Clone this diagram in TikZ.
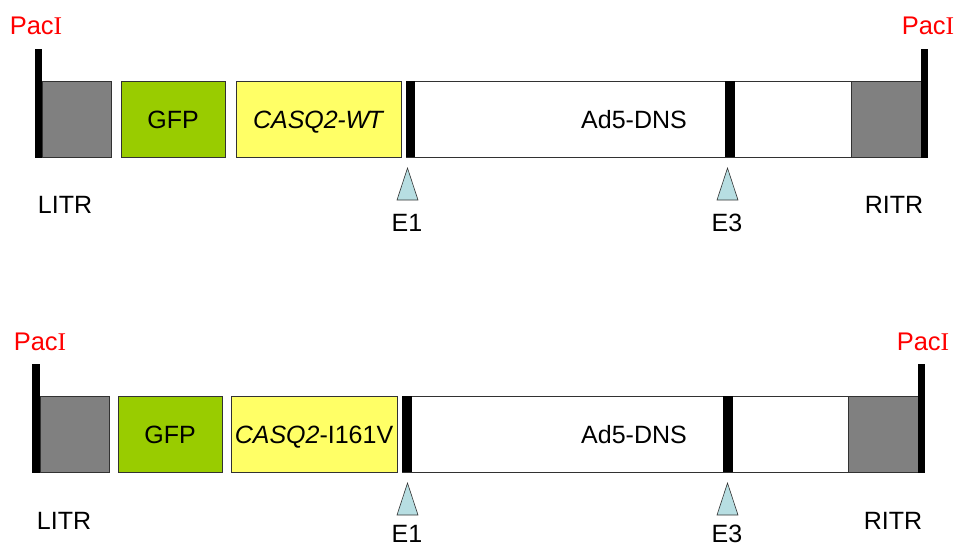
\documentclass[tikz,border=0pt]{standalone}
\usepackage{fontspec}
\setmainfont{Liberation Sans}
\newfontfamily\romanI{Liberation Serif}
\definecolor{itrgray}{RGB}{128,128,128}
\definecolor{gfpgreen}{RGB}{153,204,0}
\definecolor{casqyellow}{RGB}{255,255,102}
\definecolor{siteblue}{RGB}{183,222,226}
\definecolor{edge}{RGB}{50,50,50}
\definecolor{pacred}{RGB}{255,0,0}
\begin{document}
\begin{tikzpicture}[x=1pt,y=-1pt,
  seg/.style={draw=edge, line width=0.9pt, rectangle, inner sep=0pt, outer sep=0pt,
    anchor=north west, minimum height=76pt},
  bar/.style={fill=black, draw=none, rectangle, inner sep=0pt, outer sep=0pt,
    anchor=north west},
  txt/.style={inner sep=0pt, font=\fontsize{25}{29}\selectfont, text height=18pt, text depth=0pt},
  pac/.style={txt, text=pacred, font=\fontsize{25.5}{29}\selectfont},
  site/.style={draw=edge, line width=0.6pt, fill=siteblue, line join=miter}]
\useasboundingbox (0,0) rectangle (955,548);

% ---------- wild-type construct ----------
\node[seg, fill=itrgray, minimum width=69pt] (litrA) at (42,81) {};
\node[seg, fill=gfpgreen, minimum width=104pt] (gfpA) at (121,81) {};
\node[seg, fill=casqyellow, minimum width=165pt] (casqA) at (236,81) {};
\node[seg, fill=white, minimum width=445pt] (adA) at (406,81) {};
\node[seg, fill=itrgray, minimum width=71pt] (ritrA) at (851,81) {};
\node[bar, minimum width=9pt, minimum height=76pt] (e1barA) at (406,81) {};
\node[bar, minimum width=10pt, minimum height=76pt] (e3barA) at (725,81) {};
\node[bar, minimum width=7pt, minimum height=109pt] (lpacA) at (35,49) {};
\node[bar, minimum width=7pt, minimum height=109pt] (rpacA) at (921,49) {};

\node[txt] (gfptA) at (173,120) {GFP};
\node[txt] (casqtA) at (318,120) {\itshape CASQ2\kern-0.5pt-W\kern-1.5ptT};
\node[txt] (adtA) at (634,120) {Ad5-DNS};
\node[pac] (lpactA) at (36,26) {Pac{\romanI I}};
\node[pac] (rpactA) at (928,26) {Pac{\romanI I}};
\node[txt] (litrtA) at (65,205) {LITR};
\node[txt] (ritrtA) at (894,205) {RITR};

\draw[site] (407.5,168) -- (418,200) -- (397,200) -- cycle;
\draw[site] (727.5,168) -- (738,200) -- (717,200) -- cycle;
\node[txt] (e1A) at (407,222) {E1};
\node[txt] (e3A) at (727,222) {E3};

% ---------- I161V mutant construct ----------
\node[seg, fill=itrgray, minimum width=69pt] (litrB) at (40,396) {};
\node[seg, fill=gfpgreen, minimum width=104pt] (gfpB) at (118,396) {};
\node[seg, fill=casqyellow, minimum width=166pt] (casqB) at (231,396) {};
\node[seg, fill=white, minimum width=446pt] (adB) at (402,396) {};
\node[seg, fill=itrgray, minimum width=70pt] (ritrB) at (848,396) {};
\node[bar, minimum width=10pt, minimum height=76pt] (e1barB) at (402,396) {};
\node[bar, minimum width=10pt, minimum height=76pt] (e3barB) at (723,396) {};
\node[bar, minimum width=8pt, minimum height=109pt] (lpacB) at (32,364) {};
\node[bar, minimum width=7pt, minimum height=109pt] (rpacB) at (918,364) {};

\node[txt] (gfptB) at (170,434) {GFP};
\node[txt] (casqtB) at (314,434) {{\itshape CASQ2}-I161V};
\node[txt] (adtB) at (634,434) {Ad5-DNS};
\node[pac] (lpactB) at (40,341) {Pac{\romanI I}};
\node[pac] (rpactB) at (923,341) {Pac{\romanI I}};
\node[txt] (litrtB) at (64,520) {LITR};
\node[txt] (ritrtB) at (893,520) {RITR};

\draw[site] (407.5,483) -- (418,515) -- (397,515) -- cycle;
\draw[site] (727.5,483) -- (738,515) -- (717,515) -- cycle;
\node[txt] (e1B) at (407,533) {E1};
\node[txt] (e3B) at (727,533) {E3};
\end{tikzpicture}
\end{document}
